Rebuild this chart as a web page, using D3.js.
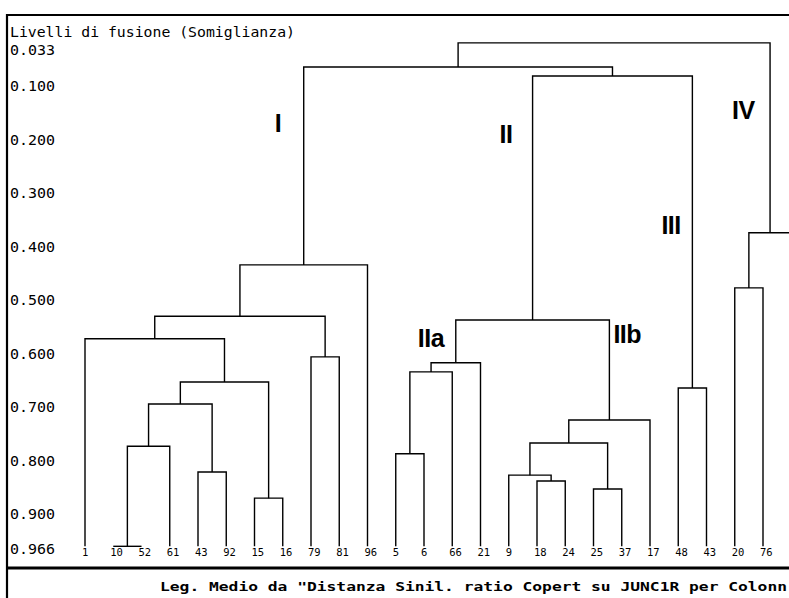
<!DOCTYPE html>
<html>
<head>
<meta charset="utf-8">
<script src="https://cdn.jsdelivr.net/npm/d3@7"></script>
<style>
  body { margin: 0; background: #fff; }
  svg { display: block; }
</style>
</head>
<body>
<div class="chart"></div>
<script>
// leaves in drawing order (last one is cut off by the frame)
var leafLabels = ["1", "10", "52", "61", "43", "92", "15", "16", "79", "81", "96",
                  "5", "6", "66", "21", "9", "18", "24", "25", "37", "17",
                  "48", "43", "20", "76", ""];
var leafLevel = 0.966;

// linkage: ids 0..25 are leaves, merge k gets id 26 + k
var mergeLeft  = [1, 26, 4, 27, 6, 29, 0, 8, 32, 34, 11, 36, 37, 16, 15, 18, 40, 42, 38, 21, 44, 35, 23, 48, 47];
var mergeRight = [2, 3, 5, 28, 7, 30, 31, 9, 33, 10, 12, 13, 14, 17, 39, 19, 41, 20, 43, 22, 45, 46, 24, 25, 49];
var mergeLevel = [0.966, 0.779, 0.827, 0.700, 0.876, 0.659, 0.578, 0.612, 0.536, 0.440,
                  0.793, 0.640, 0.623, 0.844, 0.833, 0.859, 0.773, 0.730, 0.543, 0.670,
                  0.087, 0.070, 0.483, 0.380, 0.025];

var tickValues = [0.033, 0.1, 0.2, 0.3, 0.4, 0.5, 0.6, 0.7, 0.8, 0.9, 0.966];

var clusterNames = ["I", "II", "III", "IV", "IIa", "IIb"];
var clusterNodes = [35, 44, 45, 49, 38, 43];

var titleText = "Livelli di fusione (Somiglianza)";
var legendText = "Leg. Medio da \"Distanza Sinil. ratio Copert su JUNC1R per Colonn";

var svgWidth = 789;
var svgHeight = 598;

var svg = d3.select(".chart")
  .append("svg")
  .attr("width", svgWidth)
  .attr("height", svgHeight)
  .style("background", "#fff");

// scales
var xScale = d3.scaleLinear().domain([0, 24]).range([85, 763]);
var yScale = d3.scaleLinear().domain([0.1, 0.9]).range([83, 511]);

// node positions
var nodeX = leafLabels.map((d, i) => xScale(i));
var nodeLevel = leafLabels.map(() => leafLevel);
mergeLevel.forEach(function(h, k) {
  nodeX.push((nodeX[mergeLeft[k]] + nodeX[mergeRight[k]]) / 2);
  nodeLevel.push(h);
});

// frame
var frame = svg.append("g").attr("stroke", "#000").attr("fill", "none");
frame.append("line").attr("x1", 7).attr("x2", svgWidth).attr("y1", 15).attr("y2", 15).attr("stroke-width", 2);
frame.append("line").attr("x1", 7).attr("x2", 7).attr("y1", 14).attr("y2", svgHeight).attr("stroke-width", 2.2);
frame.append("line").attr("x1", 7).attr("x2", svgWidth).attr("y1", 568).attr("y2", 568).attr("stroke-width", 3);

// title
svg.append("text")
  .attr("x", 10)
  .attr("y", 37)
  .attr("font-family", "DejaVu Sans Mono")
  .attr("font-size", 14.6)
  .attr("textLength", 285)
  .attr("lengthAdjust", "spacingAndGlyphs")
  .text(titleText);

// y labels
var leftAxis = d3.axisRight(yScale)
  .tickValues(tickValues)
  .tickSize(0)
  .tickPadding(3)
  .tickFormat(d3.format(".3f"));

var axisG = svg.append("g")
  .attr("transform", "translate(7, 3)")
  .call(leftAxis);
axisG.select(".domain").remove();
axisG.selectAll("text")
  .attr("font-family", "DejaVu Sans Mono")
  .attr("font-size", 14.6)
  .attr("fill", "#000")
  .attr("textLength", 45)
  .attr("lengthAdjust", "spacingAndGlyphs");

// dendrogram links
var links = svg.append("g")
  .attr("stroke", "#000")
  .attr("stroke-width", 1.4)
  .attr("fill", "none");

links.selectAll("path")
  .data(mergeLevel)
  .enter()
  .append("path")
  .attr("d", function(h, k) {
    var l = mergeLeft[k], r = mergeRight[k];
    return "M" + nodeX[l] + "," + yScale(nodeLevel[l]) +
           "V" + yScale(h) +
           "H" + nodeX[r] +
           "V" + yScale(nodeLevel[r]);
  });

// leaf labels
svg.append("g")
  .selectAll("text")
  .data(leafLabels)
  .enter()
  .append("text")
  .attr("x", (d, i) => xScale(i) - 3)
  .attr("y", 556)
  .attr("font-family", "DejaVu Sans Mono")
  .attr("font-size", 10.5)
  .attr("fill", "#000")
  .text(d => d);

// cluster names, placed next to their branch
var nameOffset = [[-29, 132], [-33, 143], [-31, 234], [-38, 119], [-38, 347], [4, 343]];
svg.append("g")
  .selectAll("text")
  .data(clusterNames)
  .enter()
  .append("text")
  .attr("x", (d, i) => nodeX[clusterNodes[i]] + nameOffset[i][0])
  .attr("y", (d, i) => nameOffset[i][1])
  .attr("font-family", "Liberation Sans, Arial, sans-serif")
  .attr("font-weight", "bold")
  .attr("font-size", 25)
  .attr("letter-spacing", -0.5)
  .attr("fill", "#000")
  .text(d => d);

// legend
svg.append("text")
  .attr("x", 160)
  .attr("y", 591)
  .attr("font-family", "DejaVu Sans Mono")
  .attr("font-weight", "bold")
  .attr("font-size", 13)
  .attr("textLength", 627)
  .attr("lengthAdjust", "spacingAndGlyphs")
  .text(legendText);
</script>
</body>
</html>
